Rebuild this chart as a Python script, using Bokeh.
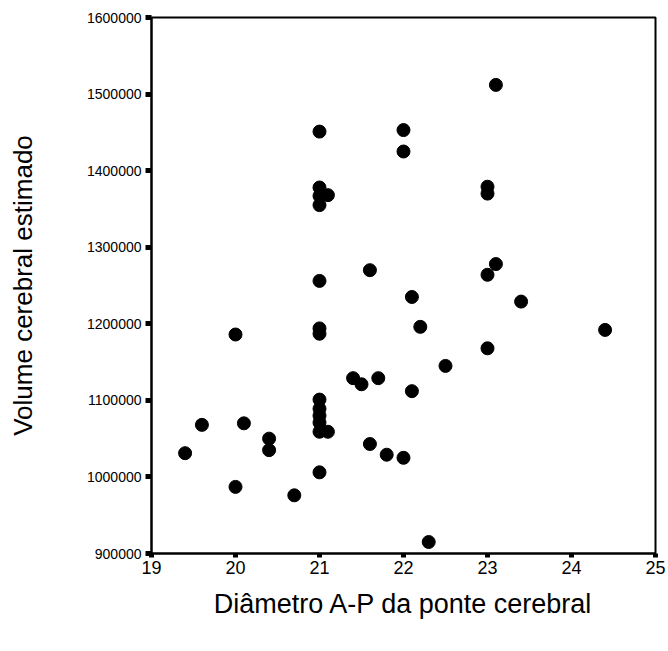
from bokeh.plotting import figure
from bokeh.models import Range1d, FixedTicker, BasicTickFormatter
from bokeh.embed import file_html
from bokeh.resources import INLINE

diametro = [19.4, 19.6, 20.0, 20.0, 20.1, 20.4, 20.4, 20.7,
            21.0, 21.0, 21.0, 21.1, 21.0, 21.0, 21.0, 21.0, 21.0, 21.0, 21.0, 21.0, 21.0, 21.1, 21.0,
            21.4, 21.5, 21.7, 21.6, 21.6, 21.8,
            22.0, 22.0, 22.0, 22.1, 22.1, 22.2, 22.3, 22.5,
            23.0, 23.0, 23.0, 23.1, 23.0, 23.1, 23.4, 24.4]
volume = [1031000, 1068000, 987000, 1186000, 1070000, 1050000, 1035000, 976000,
          1451000, 1378000, 1367000, 1368000, 1355000, 1256000, 1194000, 1187000, 1101000, 1089000, 1080000, 1071000, 1059000, 1059000, 1006000,
          1129000, 1121000, 1129000, 1270000, 1043000, 1029000,
          1453000, 1425000, 1025000, 1235000, 1112000, 1196000, 915000, 1145000,
          1379000, 1370000, 1264000, 1278000, 1168000, 1512000, 1229000, 1192000]

x_ticks = [19, 20, 21, 22, 23, 24, 25]
y_ticks = [900000, 1000000, 1100000, 1200000, 1300000, 1400000, 1500000, 1600000]

p = figure(width=668, height=651, output_backend="svg", toolbar_location=None,
           x_range=Range1d(19, 25), y_range=Range1d(900000, 1600000),
           min_border_left=151, min_border_right=13, min_border_top=17, min_border_bottom=98)

p.scatter(diametro, volume, size=13, color="black", line_color="black")

p.xgrid.visible = False
p.ygrid.visible = False
p.outline_line_color = "black"
p.outline_line_width = 2
p.background_fill_color = "white"
p.border_fill_color = "white"

p.xaxis.ticker = FixedTicker(ticks=x_ticks)
p.yaxis.ticker = FixedTicker(ticks=y_ticks)
p.yaxis.formatter = BasicTickFormatter(use_scientific=False)

for ax in (p.xaxis, p.yaxis):
    ax.axis_line_width = 2
    ax.axis_line_color = "black"
    ax.major_tick_line_width = 5
    ax.major_tick_line_color = "black"
    ax.major_tick_in = 0
    ax.minor_tick_line_color = None
    ax.major_label_text_color = "black"
    ax.major_label_text_font = "Liberation Sans"
    ax.axis_label_text_font = "Liberation Sans"
    ax.axis_label_text_font_style = "normal"
    ax.axis_label_text_color = "black"

p.xaxis.major_label_text_font_size = "18px"
p.yaxis.major_label_text_font_size = "14px"

p.xaxis.major_tick_out = 4
p.yaxis.major_tick_out = 6
p.xaxis.major_label_standoff = 3
p.yaxis.major_label_standoff = 4
p.xaxis.axis_label = "Diâmetro A-P da ponte cerebral"
p.yaxis.axis_label = "Volume cerebral estimado"
p.xaxis.axis_label_text_font_size = "27px"
p.yaxis.axis_label_text_font_size = "26px"
p.xaxis.axis_label_standoff = 12
p.yaxis.axis_label_standoff = 46

open("out.html", "w").write(file_html(p, INLINE))
